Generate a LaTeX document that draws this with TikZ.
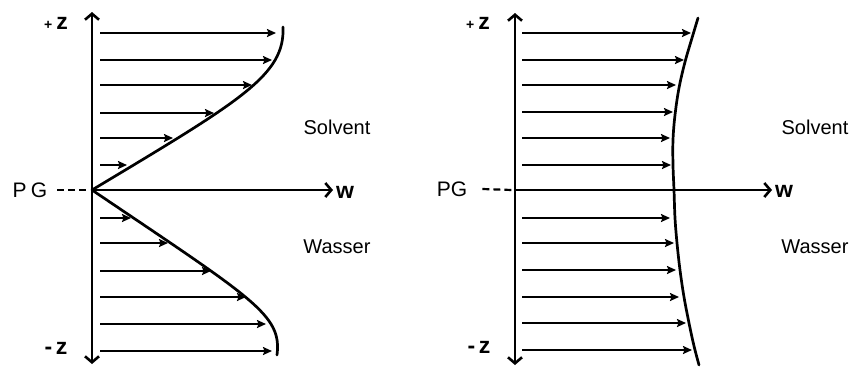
\documentclass[tikz,border=0pt]{standalone}
\usepackage{fontspec}
\setmainfont{Liberation Sans}
\usetikzlibrary{arrows.meta}
\begin{document}
\begin{tikzpicture}[x=1pt,y=-1pt,
  axisline/.style={line width=2.6pt,-{Straight Barb[length=6pt,width=14pt]}},
  flow/.style={line width=2.1pt,-{Stealth[length=9pt,width=8pt,inset=1.5pt]}},
  profile/.style={line width=2.7pt,line cap=round},
  pgdash/.style={line width=2.2pt,dash pattern=on 7pt off 4pt},
  lbl/.style={inner sep=0pt,font=\fontsize{20}{24}\selectfont},
  hand/.style={inner sep=0pt,font=\fontsize{21}{24}\selectfont},
  zlbl/.style={inner sep=0pt,font=\fontsize{23}{26}\selectfont\bfseries}]
\useasboundingbox (0,0) rectangle (855,368);
% ---------- left panel ----------
\coordinate (O1) at (92,190);
\coordinate (T1) at (92,12);
\coordinate (B1) at (92,364);
\coordinate (W1) at (333,190);
\draw[axisline] (O1) -- (T1);
\draw[axisline] (O1) -- (B1);
\draw[axisline] (O1) -- (W1);
\node[zlbl,anchor=west] (w1) at (336,192) {w};
\node[zlbl] (pz1) at (56,23) {{\fontsize{14}{14}\selectfont+}\,z};
\node[zlbl] (mz1) at (56,348) {-\,z};
\node[hand] (pg1) at (30,190) {P\hspace{0.2em}G};
\draw[pgdash] ([xshift=10pt]pg1.east) -- ([xshift=-3pt]O1);
\node[lbl] (sol1) at (337,127) {Solvent};
\node[lbl] (was1) at (337,247) {Wasser};
\foreach \i/\y/\e in {1/33/276,2/60/272,3/85/252,4/113/214,5/138/173,6/165/127,
                     7/218/131,8/243/168,9/271/211,10/297/246,11/324/266,12/351/272}{
  \coordinate (La\i) at (100,\y);
  \coordinate (Lb\i) at (\e,\y);
  \draw[flow] (La\i) -- (Lb\i);
}
\draw[profile] (O1) .. controls (242,100) and (285,75) .. (283,27);
\draw[profile] (O1) .. controls (255,300) and (282,315) .. (277,355);
% ---------- right panel ----------
\coordinate (O2) at (515,190);
\coordinate (T2) at (515,13);
\coordinate (B2) at (515,365);
\coordinate (W2) at (772,190);
\draw[axisline] (O2) -- (T2);
\draw[axisline] (O2) -- (B2);
\draw[axisline] (O2) -- (W2);
\node[zlbl,anchor=west] (w2) at (775,191) {w};
\node[zlbl] (pz2) at (478,23) {{\fontsize{14}{14}\selectfont+}\,z};
\node[zlbl] (mz2) at (479,347) {-\,z};
\node[hand] (pg2) at (452,189) {PG};
\draw[pgdash] ([xshift=15pt]pg2.east) -- ([xshift=-3pt]O2);
\node[lbl] (sol2) at (815,127) {Solvent};
\node[lbl] (was2) at (815,247) {Wasser};
\foreach \i/\y/\e in {1/33/691,2/60/684,3/85/676,4/112/673,5/138/670,6/165/671,
                     7/218/670,8/243/674,9/270/676,10/297/679,11/323/686,12/350/692}{
  \coordinate (Ra\i) at (522,\y);
  \coordinate (Rb\i) at (\e,\y);
  \draw[flow] (Ra\i) -- (Rb\i);
}
\draw[profile] plot[smooth,tension=0.6] coordinates
  {(698,18) (692,38) (685,62) (679,88) (675,115) (673,140) (673,165) (674,190)
   (675,218) (677,243) (680,270) (684,297) (689,323) (694,346) (699,365)};
\end{tikzpicture}
\end{document}
